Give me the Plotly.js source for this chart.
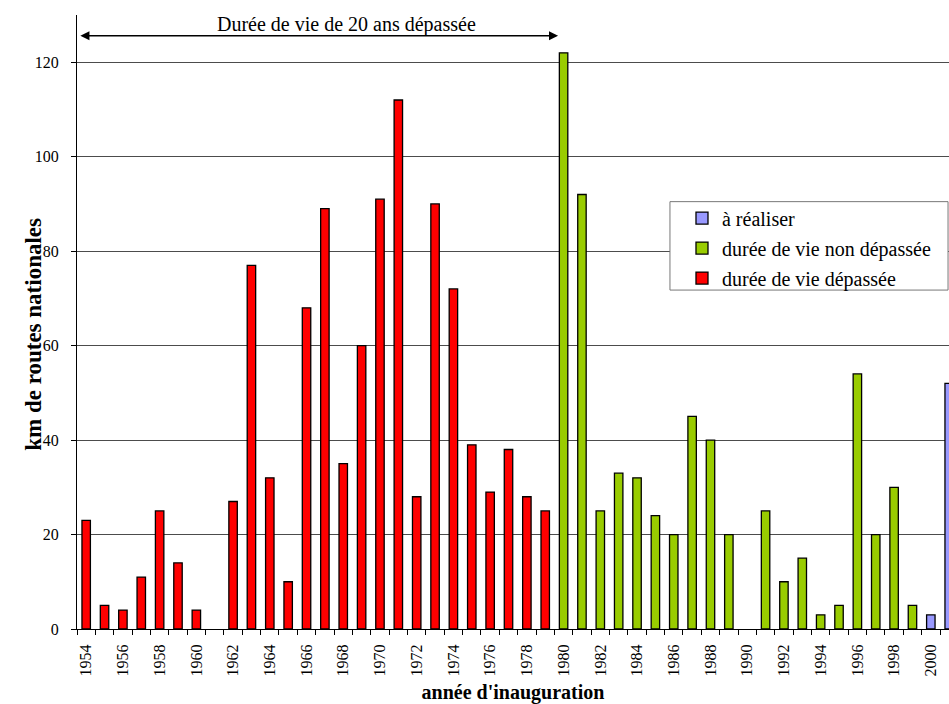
<!DOCTYPE html>
<html>
<head>
<meta charset="utf-8">
<script src="https://cdn.plot.ly/plotly-3.0.1.min.js"></script>
<style>html,body{margin:0;padding:0;background:#fff;}#chart{width:949px;height:704px;}</style>
</head>
<body>
<div id="chart"></div>
<script>
// Data
const yearsDepassee = [1954,1955,1956,1957,1958,1959,1960,1962,1963,1964,1965,1966,1967,1968,1969,1970,1971,1972,1973,1974,1975,1976,1977,1978,1979];
const kmDepassee    = [23,5,4,11,25,14,4,27,77,32,10,68,89,35,60,91,112,28,90,72,39,29,38,28,25];
const yearsNonDepassee = [1980,1981,1982,1983,1984,1985,1986,1987,1988,1989,1991,1992,1993,1994,1995,1996,1997,1998,1999];
const kmNonDepassee    = [122,92,25,33,32,24,20,45,40,20,25,10,15,3,5,54,20,30,5];
const yearsRealiser = [2000,2001];
const kmRealiser    = [3,52];
const tickYears = [1954,1956,1958,1960,1962,1964,1966,1968,1970,1972,1974,1976,1978,1980,1982,1984,1986,1988,1990,1992,1994,1996,1998,2000];
const tickLabels = tickYears.map(String);
const yTicks = [0,20,40,60,80,100,120];

const FONT = 'Liberation Serif, Times New Roman, serif';
const barLine = {color:'#000', width:1.3};

const traces = [
  {type:'bar', name:'à réaliser', x:yearsRealiser, y:kmRealiser, width:0.46,
   marker:{color:'#9999FF', line:barLine}, legendgroup:'c'},
  {type:'bar', name:'durée de vie non dépassée', x:yearsNonDepassee, y:kmNonDepassee, width:0.46,
   marker:{color:'#99CC00', line:barLine}, legendgroup:'b'},
  {type:'bar', name:'durée de vie dépassée', x:yearsDepassee, y:kmDepassee, width:0.46,
   marker:{color:'#FF0000', line:barLine}, legendgroup:'a'}
];

const layout = {
  width:949, height:704,
  margin:{l:77, r:0, t:15, b:75},
  paper_bgcolor:'#fff', plot_bgcolor:'#fff',
  font:{family:FONT, color:'#000', size:16},
  barmode:'overlay',
  showlegend:true,
  legend:{x:0.6938, y:0.701, xanchor:'left', yanchor:'top', bgcolor:'rgba(0,0,0,0)',
          borderwidth:0, font:{family:FONT, size:20, color:'#000'},
          traceorder:'grouped', tracegroupgap:1, itemwidth:30},
  shapes:[
    {type:'rect', xref:'paper', yref:'paper', x0:0.680, x1:0.9989, y0:0.552, y1:0.696,
     fillcolor:'#fff', line:{color:'#777', width:1}, layer:'above'}
  ],
  xaxis:{range:[1953.5, 2000.99], tickmode:'array', tickvals:tickYears, ticktext:tickLabels,
         tickangle:-90, ticks:'', showgrid:false, zeroline:false,
         showline:true, linecolor:'#000', linewidth:1, ticklabelstandoff:8,
         tickfont:{family:FONT, size:16, color:'#000'},
         minor:{tick0:1953.5, dtick:1, ticks:'outside', ticklen:5, tickcolor:'#000', showgrid:false},
         title:{text:"année d'inauguration", font:{family:FONT, size:20, weight:'bold', color:'#000'}, standoff:15}},
  yaxis:{range:[0,130], tickmode:'array', tickvals:yTicks, ticks:'outside', ticklen:5, tickcolor:'#000',
         showgrid:true, gridcolor:'#000', gridwidth:0.7, zeroline:false,
         showline:true, linecolor:'#000', linewidth:1, ticklabelstandoff:9,
         tickfont:{family:FONT, size:16, color:'#000'}},
  annotations:[
    {x:-0.0659, y:62.3, xref:'paper', yref:'y', showarrow:false, textangle:-90,
     text:'<b>km de routes nationales</b>', font:{family:FONT, size:23, color:'#000'}},
    {x:1979.7, y:125.6, xref:'x', yref:'y', ax:1953.6, ay:125.6, axref:'x', ayref:'y',
     showarrow:true, arrowside:'end+start', arrowhead:2, arrowsize:1.3, arrowwidth:1.4, arrowcolor:'#000', text:''},
    {x:1968.2, y:128, xref:'x', yref:'y', showarrow:false, text:'Durée de vie de 20 ans dépassée',
     font:{family:FONT, size:20, color:'#000'}}
  ]
};

Plotly.newPlot('chart', traces, layout, {displayModeBar:false, staticPlot:true});
</script>
</body>
</html>
